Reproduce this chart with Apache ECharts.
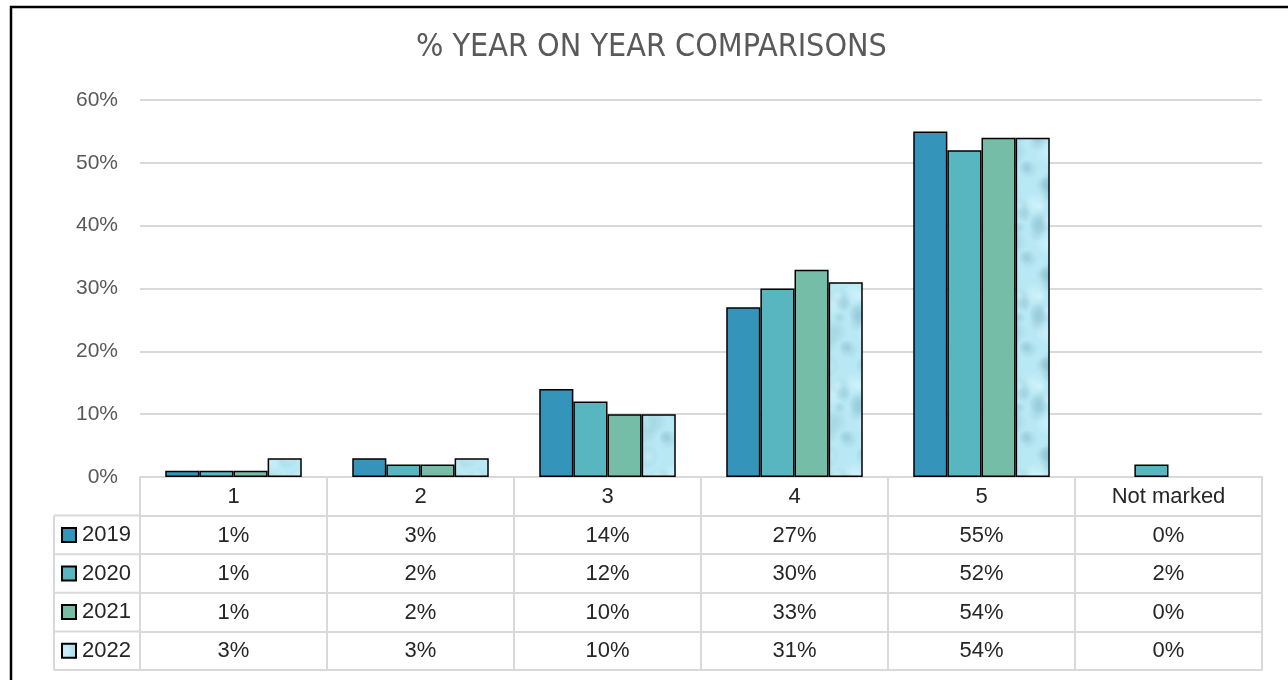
<!DOCTYPE html>
<html>
<head>
<meta charset="utf-8">
<title>% YEAR ON YEAR COMPARISONS</title>
<script src="https://cdn.jsdelivr.net/npm/echarts@6/dist/echarts.min.js"></script>
<style>
  html, body { margin: 0; padding: 0; background: #fff; }
  #chart { width: 1288px; height: 680px; }
</style>
</head>
<body>
<div id="chart"></div>
<script>
// ---- data ----
const categories = ['1', '2', '3', '4', '5', 'Not marked'];
const years = ['2019', '2020', '2021', '2022'];
const values2019 = [1, 3, 14, 27, 55, 0];
const values2020 = [1, 2, 12, 30, 52, 2];
const values2021 = [1, 2, 10, 33, 54, 0];
const values2022 = [3, 3, 10, 31, 54, 0];
const seriesValues = [values2019, values2020, values2021, values2022];

// ---- layout ----
const W = 1288, H = 680;
const GRID_LEFT = 140, GRID_RIGHT = 26, GRID_TOP = 100, GRID_BOTTOM = 203;
const ROW_H = 38.6;                 // height of each data-table row
const TABLE_LEFT = 54;              // left edge of the series-name column
const FONT = '"Liberation Sans", Arial, sans-serif';
const LINE = '#d9d9d9';
const TEXT = '#262626';
const TABLE_FONT_SIZE = 22;

// ---- "water droplets" texture for the 2022 series ----
function makeDroplets() {
  const size = 90;
  const c = document.createElement('canvas');
  c.width = size; c.height = size;
  const ctx = c.getContext('2d');
  ctx.fillStyle = '#b8e8f3';
  ctx.fillRect(0, 0, size, size);
  const hash = (n) => { const s = Math.sin(n * 127.1 + 311.7) * 43758.5453; return s - Math.floor(s); };
  for (let i = 0; i < 48; i++) {
    const x = hash(i * 3 + 1) * size;
    const y = hash(i * 3 + 2) * size;
    const r = 5 + hash(i * 3 + 3) * 9;
    const dark = i % 3 !== 0;
    for (const dx of [-size, 0, size]) {
      for (const dy of [-size, 0, size]) {
        const g = ctx.createRadialGradient(x + dx, y + dy, 0, x + dx, y + dy, r);
        if (dark) {
          g.addColorStop(0, 'rgba(120,175,195,0.3)');
          g.addColorStop(0.6, 'rgba(120,175,195,0.14)');
          g.addColorStop(1, 'rgba(120,175,195,0)');
        } else {
          g.addColorStop(0, 'rgba(220,248,255,0.55)');
          g.addColorStop(1, 'rgba(220,248,255,0)');
        }
        ctx.fillStyle = g;
        ctx.beginPath();
        ctx.arc(x + dx, y + dy, r, 0, Math.PI * 2);
        ctx.fill();
      }
    }
  }
  return c;
}

const seriesColors = [
  '#3494ba',
  '#58b6c0',
  '#75bda7',
  { image: makeDroplets(), repeat: 'repeat' }
];

const chart = echarts.init(document.getElementById('chart'), null, { renderer: 'canvas' });

// category axis for the header row plus one axis per series row of the data table
const xAxes = [{
  type: 'category',
  data: categories,
  gridIndex: 0,
  position: 'bottom',
  axisLine: { show: true, lineStyle: { color: LINE, width: 2 } },
  axisTick: { show: true, alignWithLabel: false, length: ROW_H * 5, lineStyle: { color: LINE, width: 2 } },
  axisLabel: { interval: 0, margin: 9, fontSize: TABLE_FONT_SIZE, color: TEXT, fontFamily: FONT }
}];
seriesValues.forEach((vals, i) => {
  xAxes.push({
    type: 'category',
    data: vals.map(v => v + '%'),
    gridIndex: 0,
    position: 'bottom',
    offset: ROW_H * (i + 1),
    axisLine: { show: true, lineStyle: { color: LINE, width: 2 } },
    axisTick: { show: false },
    axisLabel: { interval: 0, margin: 9, fontSize: TABLE_FONT_SIZE, color: TEXT, fontFamily: FONT }
  });
});
// bottom border of the table
xAxes.push({
  type: 'category',
  data: categories,
  gridIndex: 0,
  position: 'bottom',
  offset: ROW_H * 5,
  axisLine: { show: true, lineStyle: { color: LINE, width: 2 } },
  axisTick: { show: false },
  axisLabel: { show: false }
});

// left column (series names) box lines
const tableTop = H - GRID_BOTTOM;
const leftLines = [];
for (let r = 1; r <= 5; r++) {
  const y = tableTop + ROW_H * r;
  leftLines.push({ type: 'line', shape: { x1: TABLE_LEFT, y1: y, x2: GRID_LEFT, y2: y },
    style: { stroke: LINE, lineWidth: 2 }, silent: true });
}
leftLines.push({ type: 'line',
  shape: { x1: TABLE_LEFT, y1: tableTop + ROW_H, x2: TABLE_LEFT, y2: tableTop + ROW_H * 5 },
  style: { stroke: LINE, lineWidth: 2 }, silent: true });

const option = {
  backgroundColor: '#ffffff',
  animation: false,
  title: {
    text: '% YEAR ON YEAR COMPARISONS',
    left: 411,
    top: 27,
    textStyle: {
      fontFamily: '"Liberation Sans Narrow", "DejaVu Sans Condensed", sans-serif',
      fontWeight: 'normal',
      fontSize: 32,
      color: '#595959'
    }
  },
  legend: {
    orient: 'vertical',
    left: 61,
    top: tableTop + ROW_H + (ROW_H - 24) / 2,
    padding: 0,
    itemWidth: 14,
    itemHeight: 14,
    itemGap: ROW_H - 24,
    icon: 'rect',
    selectedMode: false,
    data: years,
    textStyle: { fontSize: TABLE_FONT_SIZE, lineHeight: 24, color: TEXT, fontFamily: FONT, padding: [0, 0, 0, 1] }
  },
  grid: { left: GRID_LEFT, right: GRID_RIGHT, top: GRID_TOP, bottom: GRID_BOTTOM, containLabel: false },
  xAxis: xAxes,
  yAxis: {
    type: 'value',
    min: 0,
    max: 60,
    interval: 10,
    axisLine: { show: false },
    axisTick: { show: false },
    axisLabel: { formatter: '{value}%', fontSize: 21, color: '#595959', fontFamily: FONT, margin: 22 },
    splitLine: { lineStyle: { color: LINE, width: 2 } }
  },
  series: years.map((name, i) => ({
    name: name,
    type: 'bar',
    xAxisIndex: 0,
    barGap: '0%',
    barCategoryGap: '27%',
    itemStyle: { color: seriesColors[i], borderColor: '#000000', borderWidth: 1.5 },
    emphasis: { disabled: true },
    data: seriesValues[i].map(v => v === 0 ? { value: v, itemStyle: { borderWidth: 0 } } : v)
  })),
  graphic: [
    ...leftLines,
    // outer chart frame
    { type: 'rect', shape: { x: 11, y: 7, width: W, height: H }, style: { fill: 'none', stroke: '#000', lineWidth: 2.5 }, silent: true, z: 100 }
  ]
};

chart.setOption(option);
</script>
</body>
</html>
